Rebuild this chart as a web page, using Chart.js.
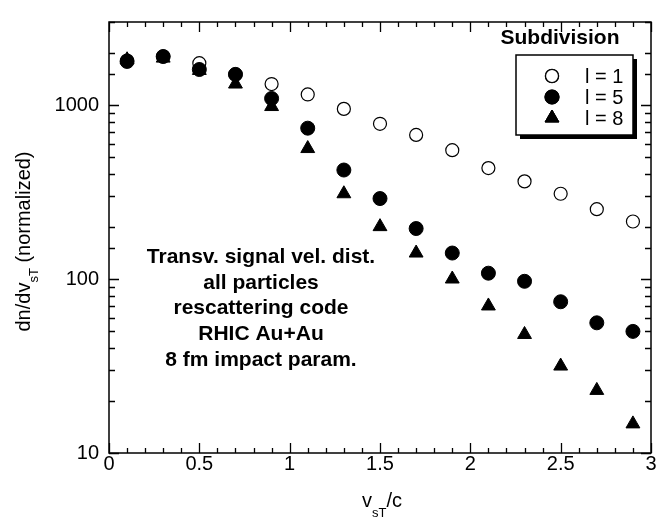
<!DOCTYPE html>
<html>
<head>
<meta charset="utf-8">
<script src="https://cdn.jsdelivr.net/npm/chart.js@4.4.0/dist/chart.umd.min.js"></script>
<style>
    html, body { margin: 0; padding: 0; background: #fff; }
    #wrap { width: 660px; height: 519px; }
</style>
</head>
<body>
<div id="wrap"><canvas id="grafico" width="660" height="519"></canvas></div>
<script>
// ========== dados ==========
const velocidades = [0.1, 0.3, 0.5, 0.7, 0.9, 1.1, 1.3, 1.5, 1.7, 1.9, 2.1, 2.3, 2.5, 2.7, 2.9];
const subdivL1 = [1800, 1900, 1740, 1500, 1320, 1150, 950, 780, 673, 550, 434, 364, 309, 252, 214];
const subdivL5 = [1780, 1900, 1600, 1500, 1090, 736, 423, 290, 195, 141, 108, 97, 74, 56, 50];
const subdivL8 = [1820, 1860, 1580, 1320, 980, 562, 309, 200, 141, 100, 70, 48, 31.6, 22.9, 14.7];
const rotulosSerie = ['l = 1', 'l = 5', 'l = 8'];
const ticksY = [10, 100, 1000];
const ticksX = [0, 0.5, 1, 1.5, 2, 2.5, 3];
const anotacao = ['Transv. signal vel. dist.', 'all particles', 'rescattering code', 'RHIC Au+Au', '8 fm impact param.'];
const tituloLegenda = 'Subdivision';

const FONTE = '"Liberation Sans", Arial, Helvetica, sans-serif';

function pontos(valores) {
    return velocidades.map((v, i) => ({ x: v, y: valores[i] }));
}

function ehMaiorX(v) {
    return ticksX.some(t => Math.abs(t - v) < 1e-6);
}
function ehMaiorY(v) {
    return ticksY.some(t => Math.abs(t - v) < 1e-6);
}

// texto com subscrito: partes = [[texto, sub?], ...]
function textoComSub(ctx, partes, cx, baseY, tam, tamSub, desloc) {
    const medidas = partes.map(([txt, sub]) => {
        ctx.font = (sub ? tamSub : tam) + 'px ' + FONTE;
        return ctx.measureText(txt).width;
    });
    const total = medidas.reduce((a, b) => a + b, 0);
    let x = cx - total / 2;
    ctx.textAlign = 'left';
    ctx.textBaseline = 'alphabetic';
    partes.forEach(([txt, sub], i) => {
        ctx.font = (sub ? tamSub : tam) + 'px ' + FONTE;
        ctx.fillText(txt, x, baseY + (sub ? desloc : 0));
        x += medidas[i];
    });
}

const pluginMoldura = {
    id: 'moldura',
    afterDatasetsDraw(chart) {
        const { ctx, chartArea: a, scales: { x, y } } = chart;
        ctx.save();
        ctx.strokeStyle = '#000';
        ctx.lineWidth = 1.3;
        ctx.beginPath();
        // marcas do eixo x (em baixo e em cima, para dentro)
        x.ticks.forEach(t => {
            const px = Math.round(x.getPixelForValue(t.value)) + 0.5;
            const len = ehMaiorX(t.value) ? 10 : 5;
            ctx.moveTo(px, a.bottom); ctx.lineTo(px, a.bottom - len);
            ctx.moveTo(px, a.top); ctx.lineTo(px, a.top + len);
        });
        // marcas do eixo y log
        y.ticks.forEach(t => {
            const py = Math.round(y.getPixelForValue(t.value)) + 0.5;
            const len = ehMaiorY(t.value) ? 10 : 6;
            ctx.moveTo(a.left, py); ctx.lineTo(a.left + len, py);
            ctx.moveTo(a.right, py); ctx.lineTo(a.right - len, py);
        });
        ctx.stroke();
        ctx.lineWidth = 1.5;
        ctx.strokeRect(a.left, a.top, a.right - a.left, a.bottom - a.top);

        // títulos dos eixos
        ctx.fillStyle = '#000';
        textoComSub(ctx, [['v', false], ['sT', true], ['/c', false]],
            (a.left + a.right) / 2 + 2, 507, 20, 13, 10);
        ctx.save();
        ctx.translate(30, (a.top + a.bottom) / 2 + 4);
        ctx.rotate(-Math.PI / 2);
        textoComSub(ctx, [['dn/dv', false], ['sT', true], [' (normalized)', false]],
            0, 0, 20, 13, 8);
        ctx.restore();

        // anotação
        ctx.font = 'bold 21px ' + FONTE;
        ctx.textAlign = 'center';
        ctx.textBaseline = 'middle';
        anotacao.forEach((linha, i) => {
            ctx.fillText(linha, 261, 257 + i * 25.8);
        });

        // legenda
        ctx.fillText(tituloLegenda, 560, 38);
        const bx = 516, by = 55, bw = 117, bh = 80;
        ctx.fillStyle = '#000';
        ctx.fillRect(bx + 4, by + 4, bw, bh);
        ctx.fillStyle = '#fff';
        ctx.fillRect(bx, by, bw, bh);
        ctx.lineWidth = 1.5;
        ctx.strokeRect(bx, by, bw, bh);
        ctx.font = '20px ' + FONTE;
        ctx.textAlign = 'left';
        chart.data.datasets.forEach((ds, i) => {
            const ly = 76 + i * 21;
            Chart.helpers.drawPoint(ctx, {
                pointStyle: ds.pointStyle,
                radius: ds.pointRadius,
                borderWidth: ds.borderWidth
            }, 552, ly);
            ctx.fillStyle = ds.backgroundColor;
            ctx.strokeStyle = '#000';
            ctx.lineWidth = ds.borderWidth;
            ctx.beginPath();
            if (ds.pointStyle === 'circle') {
                ctx.arc(552, ly, ds.pointRadius, 0, Math.PI * 2);
            } else {
                const r = ds.pointRadius;
                ctx.moveTo(552, ly - r);
                ctx.lineTo(552 + r * Math.sin(2 * Math.PI / 3), ly + r / 2);
                ctx.lineTo(552 - r * Math.sin(2 * Math.PI / 3), ly + r / 2);
                ctx.closePath();
            }
            ctx.fill();
            ctx.stroke();
            ctx.fillStyle = '#000';
            ctx.fillText(ds.label, 585, ly + 1);
        });
        ctx.restore();
    }
};

const ctx = document.getElementById('grafico').getContext('2d');
new Chart(ctx, {
    type: 'scatter',
    data: {
        datasets: [
            {
                label: rotulosSerie[0],
                data: pontos(subdivL1),
                pointStyle: 'circle',
                pointRadius: 6.5,
                backgroundColor: '#fff',
                borderColor: '#000',
                borderWidth: 1.2,
                order: 3
            },
            {
                label: rotulosSerie[1],
                data: pontos(subdivL5),
                pointStyle: 'circle',
                pointRadius: 7,
                backgroundColor: '#000',
                borderColor: '#000',
                borderWidth: 1,
                order: 2
            },
            {
                label: rotulosSerie[2],
                data: pontos(subdivL8),
                pointStyle: 'triangle',
                pointRadius: 8,
                backgroundColor: '#000',
                borderColor: '#000',
                borderWidth: 1,
                order: 1
            }
        ]
    },
    options: {
        responsive: false,
        animation: false,
        events: [],
        layout: { padding: { left: 0, top: 9, right: 6, bottom: 0 } },
        plugins: {
            legend: { display: false },
            tooltip: { enabled: false }
        },
        scales: {
            x: {
                type: 'linear',
                min: 0,
                max: 3,
                grid: { display: false, drawTicks: false },
                border: { display: false },
                ticks: {
                    stepSize: 0.1,
                    autoSkip: false,
                    maxRotation: 0,
                    padding: 1,
                    color: '#000',
                    font: { family: FONTE, size: 20, lineHeight: 1 },
                    callback: function(value) {
                        return ehMaiorX(value) ? String(Math.round(value * 10) / 10) : '';
                    }
                },
                afterFit: function(scale) { scale.height = 66; }
            },
            y: {
                type: 'logarithmic',
                min: 10,
                max: 3000,
                grid: { display: false, drawTicks: false },
                border: { display: false },
                ticks: {
                    autoSkip: false,
                    padding: 10,
                    color: '#000',
                    font: { family: FONTE, size: 20 },
                    callback: function(value) {
                        return ehMaiorY(value) ? String(value) : '';
                    }
                },
                afterFit: function(scale) { scale.width = 109; }
            }
        }
    },
    plugins: [pluginMoldura]
});
</script>
</body>
</html>
